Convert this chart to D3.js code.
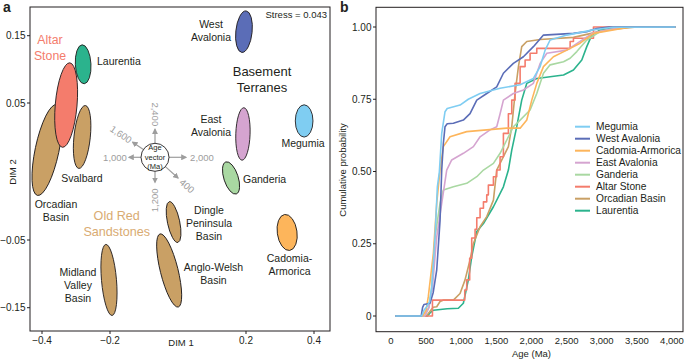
<!DOCTYPE html>
<html>
<head>
<meta charset="utf-8">
<script src="https://cdn.jsdelivr.net/npm/d3@7"></script>
<style>
  body { margin: 0; background: #fff; }
  text { font-family: "Liberation Sans", Arial, sans-serif; fill: #231f20; }
</style>
</head>
<body>
<div id="chart-area"></div>
<script>
// ---- panel a: MDS ellipses (centre, half axes in data units, tilt in degrees)
var groups = ["Orcadian Basin", "Altar Stone", "Laurentia", "Svalbard", "West Avalonia",
    "East Avalonia", "Megumia", "Ganderia", "Dingle Peninsula Basin", "Anglo-Welsh Basin",
    "Midland Valley Basin", "Cadomia-Armorica"];
var dim1 = [-0.385, -0.329, -0.279, -0.282, 0.194, 0.191, 0.371, 0.156, -0.013, -0.026, -0.203, 0.321];
var dim2 = [0.0157, 0.0485, 0.1075, 0.0252, 0.156, 0.0274, 0.0369, -0.0047, -0.0369, -0.095, -0.109, -0.0445];
var semi1 = [0.035, 0.032, 0.023, 0.024, 0.024, 0.021, 0.026, 0.021, 0.018, 0.026, 0.022, 0.029];
var semi2 = [0.069, 0.063, 0.029, 0.047, 0.031, 0.039, 0.024, 0.025, 0.031, 0.056, 0.053, 0.027];
var tilt = [12, 5, -3, 6, 6, 2, 0, -18, -12, -14, -5, -8];
var dim1Ticks = [-0.4, -0.2, 0.2, 0.4];
var dim2Ticks = [0.15, 0.05, -0.05, -0.15];
var stress = "Stress = 0.043";

// age vector arrows
var ageLabels = ["2,400", "1,600", "1,000", "1,200", "400", "2,000"];
var ageAngles = [-90, -146, 180, 90, 42, 0];

// ---- panel b: cumulative age distributions [age (Ma), probability]
var megumia = [[60,0],[437,0],[470,0.02],[508,0.032],[550,0.05],[580,0.1],[627,0.274],[660,0.447],[688,0.498],[722,0.632],[769,0.707],[800,0.718],[983,0.73],[1100,0.75],[1268,0.77],[1553,0.788],[1838,0.8],[2027,0.822],[2123,0.863],[2194,0.92],[2265,0.955],[2503,0.972],[2877,0.99],[3162,0.999],[4050,1]];
var westAvalonia = [[60,0],[430,0],[450,0.03],[470,0.04],[555,0.044],[600,0.08],[651,0.16],[698,0.33],[722,0.505],[745,0.597],[769,0.655],[800,0.665],[888,0.667],[1030,0.678],[1125,0.7],[1221,0.747],[1363,0.77],[1505,0.793],[1600,0.84],[1742,0.874],[1885,0.897],[2027,0.932],[2170,0.972],[2597,0.978],[2787,0.984],[2930,0.995],[3100,1],[4050,1]];
var cadomiaArmorica = [[60,0],[450,0],[500,0.02],[531,0.067],[603,0.217],[651,0.39],[698,0.505],[745,0.586],[840,0.62],[1078,0.638],[1363,0.644],[1648,0.65],[1838,0.65],[1933,0.678],[2004,0.747],[2075,0.805],[2170,0.863],[2312,0.897],[2503,0.92],[2692,0.944],[2882,0.978],[3167,0.99],[3400,1],[4050,1]];
var eastAvalonia = [[60,0],[480,0],[540,0.03],[590,0.1],[651,0.274],[722,0.39],[793,0.505],[864,0.54],[1030,0.563],[1173,0.586],[1268,0.62],[1410,0.644],[1505,0.655],[1553,0.7],[1600,0.747],[1742,0.77],[1885,0.782],[2027,0.805],[2123,0.874],[2218,0.909],[2503,0.92],[2692,0.95],[2880,0.98],[3300,1],[4050,1]];
var ganderia = [[60,0],[480,0],[540,0.03],[580,0.1],[627,0.274],[698,0.39],[745,0.436],[888,0.447],[1078,0.459],[1221,0.482],[1316,0.505],[1458,0.528],[1553,0.563],[1648,0.609],[1742,0.655],[1838,0.678],[1980,0.713],[2075,0.77],[2170,0.84],[2265,0.869],[2456,0.88],[2550,0.892],[2645,0.915],[2787,0.955],[2977,0.984],[3300,1],[4050,1]];
var altarStone = [[60,0],[555,0],[590,0.055],[1007,0.055],[1050,0.09],[1078,0.125],[1120,0.2],[1149,0.27],[1197,0.3],[1221,0.34],[1268,0.373],[1316,0.395],[1363,0.419],[1386,0.453],[1458,0.482],[1505,0.505],[1553,0.551],[1600,0.632],[1671,0.7],[1719,0.747],[1766,0.805],[1838,0.863],[1909,0.886],[1980,0.909],[2075,0.926],[2503,0.926],[2550,0.95],[2597,0.961],[2835,0.961],[2882,1],[4050,1]];
var orcadianBasin = [[60,0],[500,0],[531,0.009],[600,0.03],[651,0.032],[698,0.05],[750,0.055],[888,0.055],[983,0.078],[1054,0.125],[1125,0.194],[1173,0.251],[1268,0.309],[1363,0.344],[1458,0.401],[1505,0.505],[1671,0.586],[1719,0.655],[1766,0.77],[1814,0.863],[1861,0.932],[1933,0.95],[2123,0.957],[2597,0.964],[3073,0.99],[3500,1],[4050,1]];
var laurentia = [[60,0],[520,0],[560,0.012],[603,0.02],[800,0.025],[959,0.027],[1030,0.044],[1101,0.125],[1149,0.205],[1221,0.292],[1316,0.32],[1458,0.378],[1600,0.447],[1671,0.505],[1719,0.574],[1790,0.655],[1861,0.747],[1933,0.805],[2075,0.822],[2265,0.828],[2456,0.834],[2597,0.851],[2716,0.886],[2787,0.932],[2858,0.972],[2977,0.99],[3300,1],[4050,1]];

var seriesNames = ["Megumia", "West Avalonia", "Cadomia-Armorica", "East Avalonia",
    "Ganderia", "Altar Stone", "Orcadian Basin", "Laurentia"];
var seriesValues = [megumia, westAvalonia, cadomiaArmorica, eastAvalonia,
    ganderia, altarStone, orcadianBasin, laurentia];
var ageTicks = [0, 500, 1000, 1500, 2000, 2500, 3000, 3500, 4000];
var probTicks = [0, 0.25, 0.5, 0.75, 1];

var colors = {
    "Megumia": "#7fcdf2",
    "West Avalonia": "#5b6db7",
    "Cadomia-Armorica": "#fdb55b",
    "East Avalonia": "#d5a4d0",
    "Ganderia": "#a9d8a2",
    "Altar Stone": "#f47c6c",
    "Orcadian Basin": "#c9a065",
    "Laurentia": "#2bb38d"
};
var tan = "#c9a065";

var svg = d3.select("#chart-area")
    .append("svg")
    .attr("width", 685)
    .attr("height", 360);

// ================= panel a =================
var ga = svg.append("g");

var x = d3.scaleLinear().domain([-0.4, 0.4]).range([42, 314]);
// the published axis is not evenly spaced, so follow the tick positions
var y = d3.scaleLinear().domain(dim2Ticks).range([35.7, 103, 240, 307.7]);
// size of one DIM 2 unit in pixels (outer segments of the axis)
var yUnit = (y(0.05) - y(0.15)) / 0.1;

ga.append("rect")
    .attr("x", 30).attr("y", 7)
    .attr("width", 300).attr("height", 324)
    .attr("fill", "none").attr("stroke", "#231f20").attr("stroke-width", 1);

ga.selectAll(".ytick").data(dim2Ticks).enter().append("line")
    .attr("x1", 27).attr("x2", 30)
    .attr("y1", d => y(d)).attr("y2", d => y(d))
    .attr("stroke", "#231f20");
ga.selectAll(".ylab").data(dim2Ticks).enter().append("text")
    .attr("x", 25.5).attr("y", d => y(d) + 3.5)
    .attr("text-anchor", "end").attr("font-size", 10)
    .text(d => d3.format(".2f")(d).replace("-", "\u2212"));

ga.selectAll(".xtick").data(dim1Ticks).enter().append("line")
    .attr("x1", d => x(d)).attr("x2", d => x(d))
    .attr("y1", 331).attr("y2", 334)
    .attr("stroke", "#231f20");
ga.selectAll(".xlab").data(dim1Ticks).enter().append("text")
    .attr("x", d => x(d)).attr("y", 344)
    .attr("text-anchor", "middle").attr("font-size", 10)
    .text(d => d3.format(".1f")(d).replace("-", "\u2212"));

ga.append("text").attr("x", 181).attr("y", 346)
    .attr("text-anchor", "middle").attr("font-size", 9.5).text("DIM 1");
ga.append("text")
    .attr("transform", "translate(16,172) rotate(-90)")
    .attr("text-anchor", "middle").attr("font-size", 9.5).text("DIM 2");

// ellipses
var ellipses = groups.map(function(name, i) {
    return { name: name, d1: dim1[i], d2: dim2[i], s1: semi1[i], s2: semi2[i], tilt: tilt[i] };
});

ga.selectAll(".ell").data(ellipses).enter().append("ellipse")
    .attr("transform", d => "translate(" + x(d.d1) + "," + y(d.d2) + ") rotate(" + d.tilt + ")")
    .attr("rx", d => x(d.d1 + d.s1) - x(d.d1))
    .attr("ry", d => d.s2 * yUnit)
    .attr("fill", d => colors[d.name] || tan)
    .attr("stroke", "#231f20")
    .attr("stroke-width", 0.9);

// labels
var labelLines = [
    { lines: ["West", "Avalonia"], x: 211, y: 27.7 },
    { lines: ["Laurentia"], x: 97, y: 65, anchor: "start" },
    { lines: ["East", "Avalonia"], x: 211, y: 122.7 },
    { lines: ["Megumia"], x: 303, y: 146.7 },
    { lines: ["Svalbard"], x: 82, y: 181.7 },
    { lines: ["Ganderia"], x: 243, y: 183.3, anchor: "start" },
    { lines: ["Orcadian", "Basin"], x: 56, y: 208.3 },
    { lines: ["Dingle", "Peninsula", "Basin"], x: 209, y: 214.3 },
    { lines: ["Cadomia-", "Armorica"], x: 289.5, y: 262.3 },
    { lines: ["Anglo-Welsh", "Basin"], x: 213.5, y: 271 },
    { lines: ["Midland", "Valley", "Basin"], x: 78, y: 276 }
];
labelLines.forEach(function(l) {
    var t = ga.append("text")
        .attr("text-anchor", l.anchor || "middle")
        .attr("font-size", 10.5);
    l.lines.forEach(function(s, k) {
        t.append("tspan").attr("x", l.x).attr("y", l.y + k * 12.8).text(s);
    });
});

var bigLabels = [
    { lines: ["Altar", "Stone"], x: 50, y: 44, color: "#f47c6c", size: 12.3 },
    { lines: ["Basement", "Terranes"], x: 262, y: 76, color: "#231f20", size: 13 },
    { lines: ["Old Red", "Sandstones"], x: 116.7, y: 220, color: "#d9ab72", size: 12.6 }
];
bigLabels.forEach(function(l) {
    var t = ga.append("text")
        .attr("text-anchor", "middle")
        .attr("font-size", l.size)
        .style("fill", l.color);
    l.lines.forEach(function(s, k) {
        t.append("tspan").attr("x", l.x).attr("y", l.y + k * 15.5).text(s);
    });
});

ga.append("text").attr("x", 327).attr("y", 18.3)
    .attr("text-anchor", "end").attr("font-size", 9.5).text(stress);

// age vector
var grey = "#9d9d9d";
var cx0 = 155, cy0 = 157.3, r0 = 14;
svg.append("defs").append("marker")
    .attr("id", "head")
    .attr("viewBox", "0 0 10 10")
    .attr("refX", 8).attr("refY", 5)
    .attr("markerWidth", 5).attr("markerHeight", 5)
    .attr("orient", "auto")
    .append("path").attr("d", "M0,0 L10,5 L0,10 z").attr("fill", grey);

var arrowLen = [28, 27, 26, 25, 31, 31];
var labelDist = [43, 41, 40, 43, 43, 47];
ageLabels.forEach(function(lab, i) {
    var a = ageAngles[i] * Math.PI / 180;
    var c = Math.cos(a), s = Math.sin(a);
    ga.append("line")
        .attr("x1", cx0 + r0 * c).attr("y1", cy0 + r0 * s)
        .attr("x2", cx0 + arrowLen[i] * c).attr("y2", cy0 + arrowLen[i] * s)
        .attr("stroke", grey).attr("stroke-width", 1.2)
        .attr("marker-end", "url(#head)");
    var rot = c > 0.01 ? ageAngles[i] : ageAngles[i] + 180;
    if (rot > 180) rot -= 360;
    ga.append("text")
        .attr("transform", "translate(" + (cx0 + labelDist[i] * c) + "," + (cy0 + labelDist[i] * s) + ") rotate(" + rot + ")")
        .attr("text-anchor", "middle").attr("dy", "0.35em")
        .attr("font-size", 9.5)
        .style("fill", grey)
        .text(lab);
});
ga.append("circle").attr("cx", cx0).attr("cy", cy0).attr("r", r0)
    .attr("fill", "#fff").attr("stroke", "#231f20").attr("stroke-width", 0.9);
var av = ga.append("text").attr("text-anchor", "middle").attr("font-size", 7.5);
["Age", "vector", "(Ma)"].forEach(function(s, k) {
    av.append("tspan").attr("x", cx0).attr("y", cy0 - 7.3 + k * 9.5).text(s);
});

// ================= panel b =================
var gb = svg.append("g");
var xb = d3.scaleLinear().domain([0, 4000]).range([391, 672]);
var yb = d3.scaleLinear().domain([0, 1]).range([316, 27]);

gb.append("rect")
    .attr("x", 376).attr("y", 7.3)
    .attr("width", 307).attr("height", 324.4)
    .attr("fill", "none").attr("stroke", "#231f20").attr("stroke-width", 1);

gb.selectAll(".ytick").data(probTicks).enter().append("line")
    .attr("x1", 373).attr("x2", 376)
    .attr("y1", d => yb(d)).attr("y2", d => yb(d))
    .attr("stroke", "#231f20");
gb.selectAll(".ylab").data(probTicks).enter().append("text")
    .attr("x", 371.5).attr("y", d => yb(d) + 3.5)
    .attr("text-anchor", "end").attr("font-size", 10)
    .text(d => d === 0 ? "0" : d3.format(".2f")(d));

gb.selectAll(".xlab").data(ageTicks).enter().append("text")
    .attr("x", d => xb(d)).attr("y", 344)
    .attr("text-anchor", "middle").attr("font-size", 9.5)
    .text(d3.format(","));

gb.append("text").attr("x", 531.5).attr("y", 356.5)
    .attr("text-anchor", "middle").attr("font-size", 9.5).text("Age (Ma)");
gb.append("text")
    .attr("transform", "translate(346,170) rotate(-90)")
    .attr("text-anchor", "middle").attr("font-size", 9.5).text("Cumulative probability");

var line = d3.line().x(d => xb(d[0])).y(d => yb(d[1]));
var stepLine = d3.line().x(d => xb(d[0])).y(d => yb(d[1])).curve(d3.curveStepAfter);

// draw in reverse legend order so Megumia sits on top
var drawOrder = [7, 6, 5, 4, 3, 2, 1, 0];
drawOrder.forEach(function(i) {
    gb.append("path")
        .datum(seriesValues[i])
        .attr("d", seriesNames[i] === "Altar Stone" ? stepLine : line)
        .attr("fill", "none")
        .attr("stroke", colors[seriesNames[i]])
        .attr("stroke-width", 1.6)
        .attr("stroke-linejoin", "round");
});

// legend
var legend = gb.selectAll(".leg").data(seriesNames).enter().append("g")
    .attr("transform", (d, i) => "translate(575," + (126.7 + i * 12.0) + ")");
legend.append("line")
    .attr("x1", 0).attr("x2", 15)
    .attr("stroke", d => colors[d]).attr("stroke-width", 2);
legend.append("text")
    .attr("x", 21).attr("y", 3.6)
    .attr("font-size", 10.2)
    .text(d => d);

// panel letters
svg.append("text").attr("x", 3).attr("y", 12).attr("font-size", 14)
    .attr("font-weight", "bold").text("a");
svg.append("text").attr("x", 340).attr("y", 12).attr("font-size", 14)
    .attr("font-weight", "bold").text("b");
</script>
</body>
</html>
